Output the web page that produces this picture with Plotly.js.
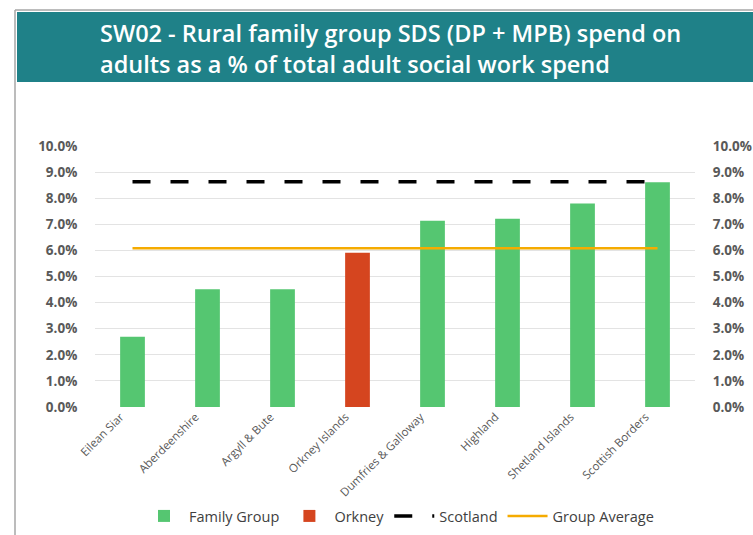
<!DOCTYPE html>
<html>
<head>
<meta charset="utf-8">
<script src="https://cdn.plot.ly/plotly-3.0.1.min.js"></script>
<style>
html,body{margin:0;padding:0;background:#fff;}
#chart{width:753px;height:535px;}
</style>
</head>
<body>
<div id="chart"></div>
<script>
// Data
var categories = ["Eilean Siar", "Aberdeenshire", "Argyll & Bute", "Orkney Islands", "Dumfries & Galloway", "Highland", "Shetland Islands", "Scottish Borders"];
var familyGroup = [2.69, 4.51, 4.51, null, 7.14, 7.21, 7.80, 8.61];
var orkney = [null, null, null, 5.91, null, null, null, null];
var scotland = [8.63, 8.63, 8.63, 8.63, 8.63, 8.63, 8.63, 8.63];
var groupAverage = [6.08, 6.08, 6.08, 6.08, 6.08, 6.08, 6.08, 6.08];
var yTicks = [0,1,2,3,4,5,6,7,8,9,10];

var FONT = "Open Sans, sans-serif";

var traces = [
  {type:'bar', name:'Family Group', x:categories, y:familyGroup, width:0.33,
   marker:{color:'#55c671'}},
  {type:'bar', name:'Orkney', x:categories, y:orkney, width:0.33,
   marker:{color:'#d5451f'}},
  {type:'scatter', mode:'lines', name:'Scotland', x:categories, y:scotland, yaxis:'y2',
   line:{color:'#000000', width:3.5, dash:'18px,20px'}},
  {type:'scatter', mode:'lines', name:'Group Average', x:categories, y:groupAverage, yaxis:'y2',
   line:{color:'#f5ab00', width:2.5}}
];

var L = 95, R = 58, T = 146, B = 128;
var pw = 753 - L - R, ph = 535 - T - B;
function px(x){ return (x - L) / pw; }
function py(y){ return (535 - B - y) / ph; }

var tickAxis = {
  range:[0,10], tickvals:yTicks, ticktext:yTicks.map(function(v){return v.toFixed(1)+'%';}),
  showline:false, zeroline:false, fixedrange:true,
  ticks:'outside', ticklen:14, tickcolor:'rgba(0,0,0,0)',
  tickfont:{family:FONT, size:13.5, color:'#595959', weight:700}
};

var layout = {
  width:753, height:535,
  margin:{l:L, r:R, t:T, b:B},
  paper_bgcolor:'#ffffff', plot_bgcolor:'#ffffff',
  barmode:'overlay',
  showlegend:true,
  title:{
    text:'SW02 - Rural family group SDS (DP + MPB) spend on<br>adults as a % of total adult social work spend',
    font:{family:FONT, size:23.5, color:'#ffffff', weight:600},
    xref:'container', yref:'container', x:100/753, xanchor:'left', y:1-42/535, yanchor:'middle'
  },
  xaxis:{
    type:'category', tickangle:-45, showgrid:false, showline:false, zeroline:false,
    tickfont:{family:FONT, size:11.5, color:'#595959'}, fixedrange:true,
    ticklabelshift:-12
  },
  yaxis:Object.assign({}, tickAxis, {showgrid:true, gridcolor:'#e3e3e3', gridwidth:1, side:'left'}),
  yaxis2:Object.assign({}, tickAxis, {overlaying:'y', side:'right', showgrid:false}),
  legend:{
    orientation:'h', xref:'container', yref:'container', x:399/753, xanchor:'center',
    y:1-516/535, yanchor:'middle', font:{family:FONT, size:14.5, color:'#404040'},
    itemwidth:40, traceorder:'normal'
  },
  shapes:[
    {type:'rect', xref:'paper', yref:'paper', x0:px(17), x1:px(753), y0:py(82), y1:py(12),
     fillcolor:'#1f8188', line:{width:0}, layer:'below'},
    {type:'line', xref:'paper', yref:'paper', x0:px(15), x1:px(753), y0:py(10), y1:py(10),
     line:{color:'#a6a6a6', width:1.5}},
    {type:'line', xref:'paper', yref:'paper', x0:px(15), x1:px(15), y0:py(10), y1:py(535),
     line:{color:'#a6a6a6', width:1.5}}
  ]
};

Plotly.newPlot('chart', traces, layout, {displayModeBar:false, staticPlot:true});
</script>
</body>
</html>
